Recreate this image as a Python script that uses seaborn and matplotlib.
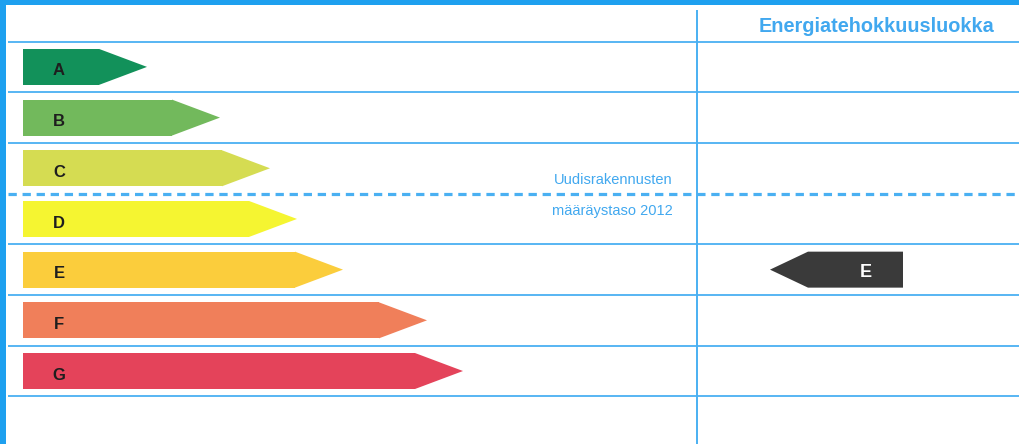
"""Energy efficiency class chart (energiatehokkuusluokka)."""

import matplotlib
matplotlib.use('Agg')
import matplotlib.pyplot as plt
from matplotlib.patches import Polygon
import pandas as pd
import seaborn as sns

# Data
classes = ['A', 'B', 'C', 'D', 'E', 'F', 'G']
body_len = [76, 149, 199, 226, 272, 356, 392]
colors = ['#12915a', '#72b95c', '#d5dc52', '#f5f531', '#fbcd3c', '#f07f5a', '#e4435a']
rating = 'E'
header = 'Energiatehokkuusluokka'
level_text = ['Uudisrakennusten', 'määräystaso 2012']
level_after = 'C'   # dashed line sits below this class

sns.set_theme(style='white')
plt.rcParams['font.family'] = ['Liberation Sans', 'DejaVu Sans']

BLUE = '#4ab0f2'
TEXT_BLUE = '#41a8ef'
TIP = 48
BAR_H = 0.71

df = pd.DataFrame({'cls': classes, 'len': body_len})

fig = plt.figure(figsize=(10.2, 4.44), dpi=100)
ax = fig.add_axes([0, 0, 1, 1])

sns.barplot(data=df, x='len', y='cls', hue='cls', palette=colors, orient='h',
            width=BAR_H, saturation=1, legend=False, linewidth=0, ax=ax)

# arrow tips + class letters
for i, (L, c) in enumerate(zip(body_len, colors)):
    tri = Polygon([(L, i - BAR_H / 2), (L + TIP, i), (L, i + BAR_H / 2)],
                  closed=True, facecolor=c, edgecolor='none')
    ax.add_patch(tri)
    ax.text(36, i + 0.08, classes[i], ha='center', va='center',
            fontsize=12, fontweight='bold', color='#1e1e1e')

ax.set_xlim(-23, 997)
ax.set_ylim(7.44, -1.32)
ax.axis('off')

# grid
solid = [-0.5, 0.5, 1.5, 3.5, 4.5, 5.5, 6.5]
ax.hlines(solid, -15, 997, color=BLUE, lw=1.3, zorder=0)
k = classes.index(level_after)
ax.hlines(k + 0.5, -15, 997, color=BLUE, lw=2.3, linestyles=(0, (2.6, 1.8)), zorder=0)
ax.vlines(674, -1.12, 7.44, color=BLUE, lw=1.4, zorder=0)

# frame borders
ax.axvspan(-23, -17, color='#1ea0ef', lw=0)
ax.axhspan(-1.32, -1.22, color='#1ea0ef', lw=0)

# texts
ax.text(854, -0.79, header, ha='center', va='center', fontsize=14.3,
        fontweight='bold', color=TEXT_BLUE)
ax.text(650, k + 0.23, level_text[0], ha='right', va='center',
        fontsize=10.5, color=TEXT_BLUE)
ax.text(650, k + 0.84, level_text[1], ha='right', va='center',
        fontsize=10.5, color=TEXT_BLUE)

# rating arrow
r = classes.index(rating)
x0, x1 = 785, 880
ax.add_patch(Polygon([(x1, r - BAR_H / 2), (x0, r - BAR_H / 2), (x0 - 38, r),
                      (x0, r + BAR_H / 2), (x1, r + BAR_H / 2)],
                     closed=True, facecolor='#3a3a3a', edgecolor='none'))
ax.text(843, r + 0.06, rating, ha='center', va='center', fontsize=13,
        fontweight='bold', color='white')

fig.savefig('out.png', dpi=100)
